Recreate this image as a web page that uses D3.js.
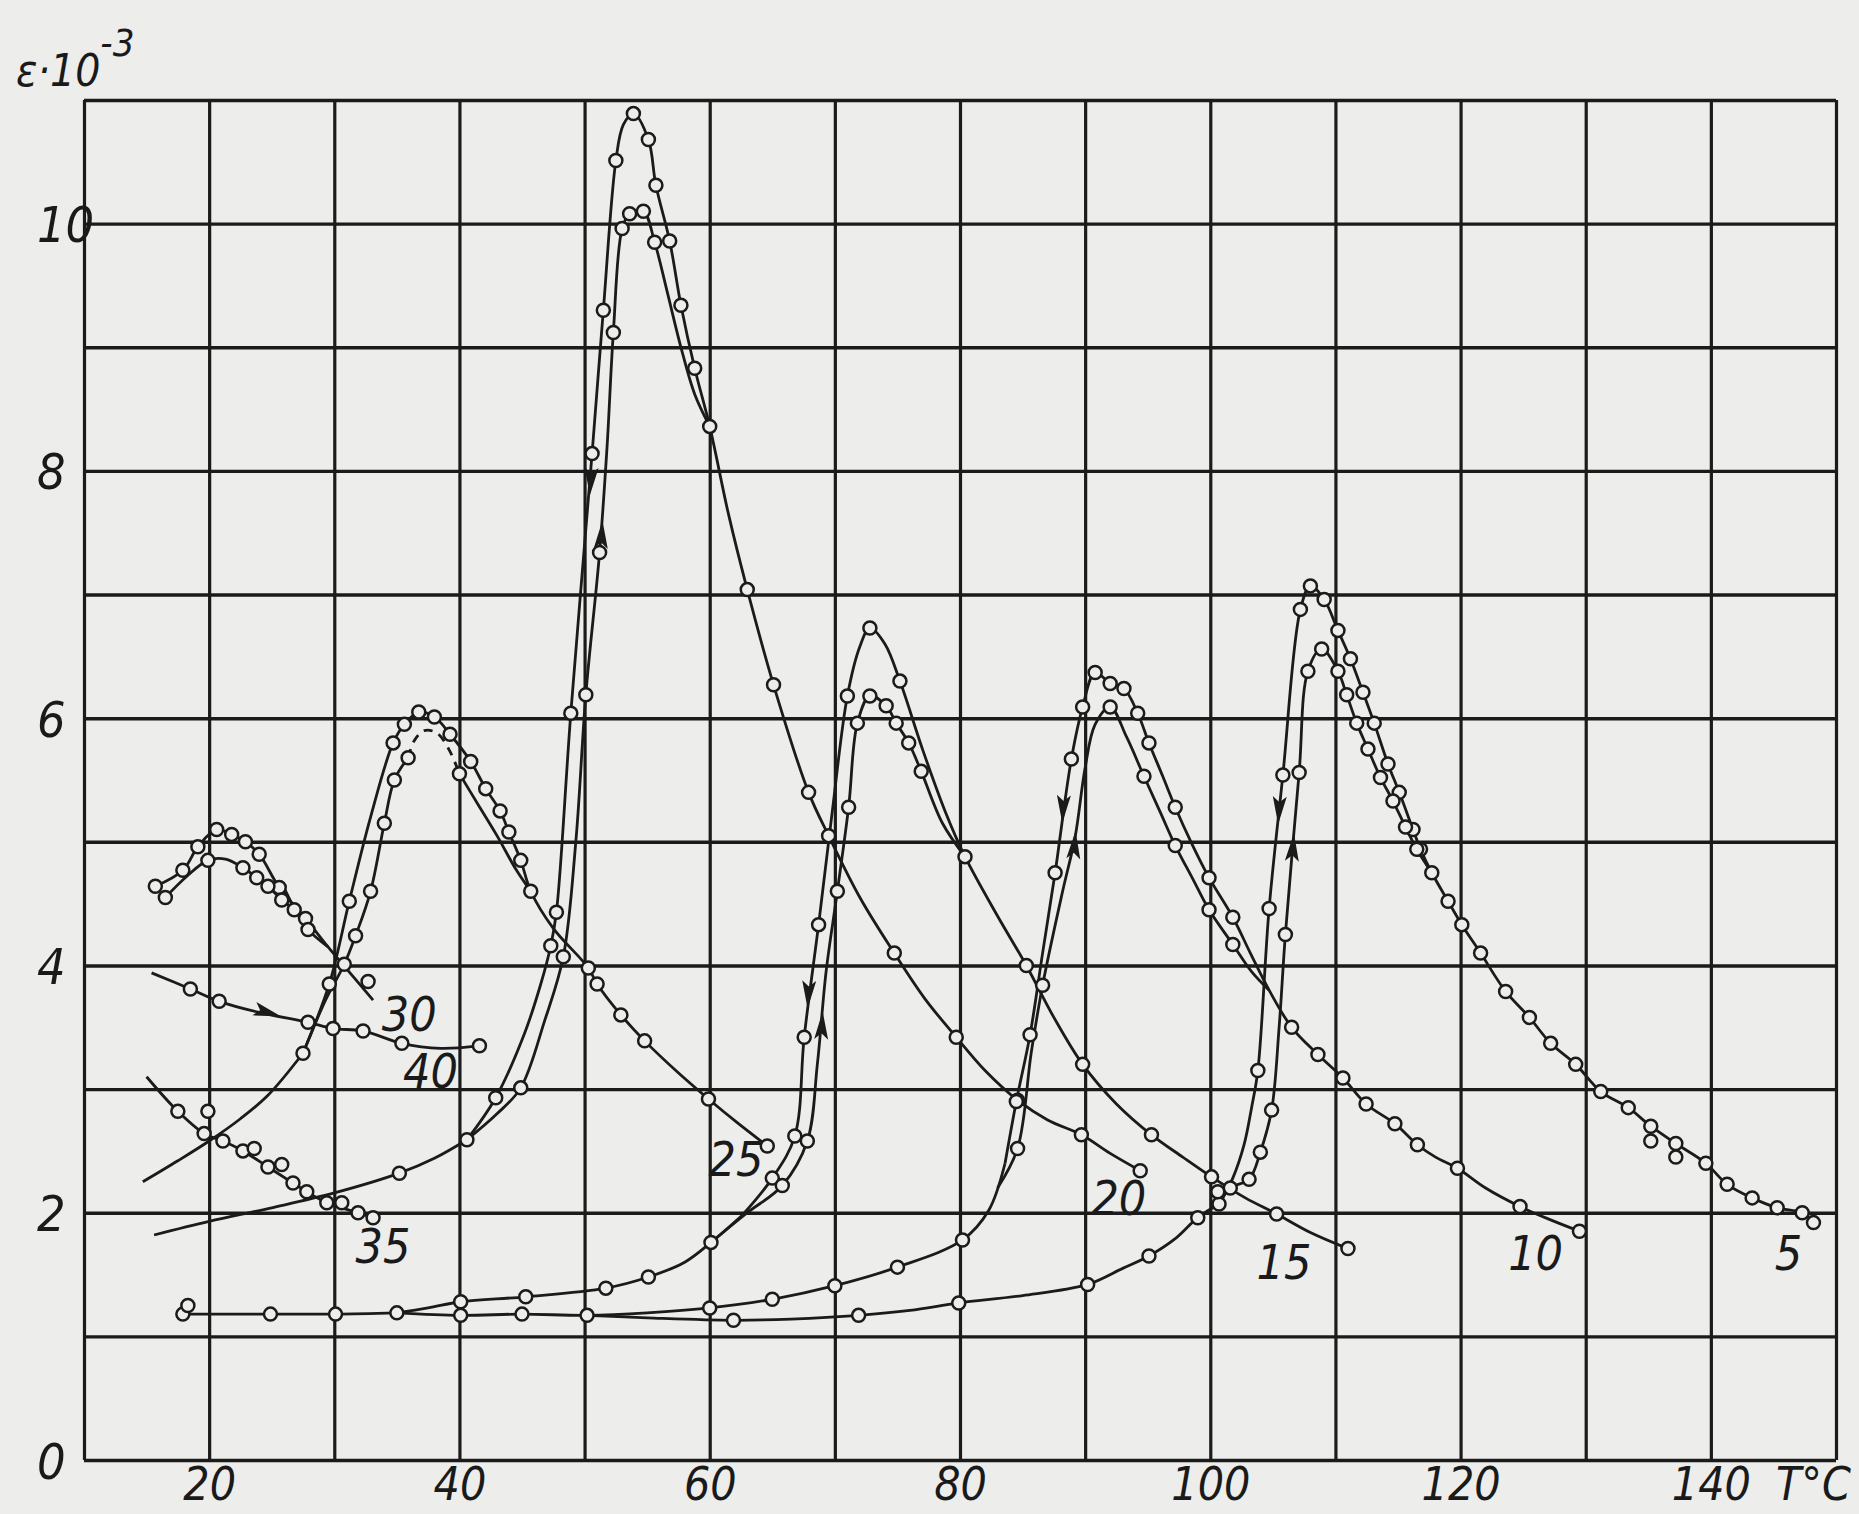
<!DOCTYPE html>
<html>
<head>
<meta charset="utf-8">
<script src="https://cdn.jsdelivr.net/npm/d3@7"></script>
<style>
  html, body { margin: 0; padding: 0; background: #ededeb; }
  svg { display: block; }
  .lbl { font-family: "Liberation Sans Narrow", "DejaVu Sans Condensed", "DejaVu Sans", sans-serif; font-stretch: condensed; font-style: italic; fill: #1a1a1a; }
</style>
</head>
<body>
<svg id="chart" width="1859" height="1514"></svg>
<script>
// values: [T °C, eps*10^-3, marker?]
const xTicks = [20, 40, 60, 80, 100, 120, 140];
const yTicks = [0, 2, 4, 6, 8, 10];

// short curves at the left (30, 40, 35)
const curve30a = [[15.7,4.64,1],[17.9,4.77,1],[19.1,4.96,1],[20.6,5.10,1],[21.8,5.06,1],[22.9,5.0,1],[24.0,4.9,1],[25.6,4.63,1],[27.7,4.38,1],[29.5,4.15,0],[31.0,3.97,0],[33.1,3.72,0]];
const curve30b = [[16.5,4.55,1],[18.2,4.72,0],[19.9,4.85,1],[21.3,4.86,0],[22.7,4.79,1],[23.8,4.71,1],[24.7,4.64,1],[25.8,4.53,1],[26.8,4.45,1],[27.9,4.29,1],[29.5,4.15,0]];
const curve40 = [[15.4,3.94,0],[18.5,3.81,1],[20.8,3.71,1],[24.0,3.62,0],[27.9,3.54,1],[29.9,3.49,1],[32.3,3.47,1],[35.4,3.37,1],[38.5,3.33,0],[41.6,3.35,1]];
const curve35 = [[15.0,3.10,0],[17.5,2.82,1],[19.6,2.64,1],[21.1,2.58,1],[22.7,2.5,1],[24.7,2.37,1],[26.7,2.24,1],[27.8,2.17,1],[29.4,2.08,1],[31.9,2.0,1],[33.1,1.96,1]];

// peak near 37 °C (25)
const base25 = [[14.7,2.25,0],[17.5,2.42,0],[20,2.58,0],[22.5,2.76,0],[24.7,2.95,0],[27.5,3.29,1]];
const peak25A = [[27.5,3.29,0],[29.6,3.85,1],[31.2,4.52,1],[32.9,5.2,0],[34.7,5.8,1],[35.6,5.95,1],[36.75,6.05,1],[38.0,6.01,1],[39.25,5.87,1],[40.9,5.65,1],[42.1,5.43,1],[43.25,5.25,1],[43.95,5.08,1],[44.9,4.85,1],[45.7,4.6,1],[47.5,4.3,0],[50.3,3.98,1],[51.0,3.85,1],[52.9,3.6,1],[54.8,3.39,1],[57.4,3.14,0],[59.9,2.92,1],[62.3,2.72,0],[64.6,2.54,1]];
const peak25B = [[27.5,3.29,0],[29.3,3.72,0],[30.8,4.01,1],[31.7,4.24,1],[32.9,4.6,1],[34.0,5.15,1],[34.8,5.5,1],[35.9,5.68,1]];
const peak25Top = [[35.9,5.68,0],[36.4,5.82,0],[37.2,5.9,0],[38.2,5.88,0],[39.2,5.74,0],[40.0,5.55,0]];
const peak25Down = [[40.0,5.55,1],[41.5,5.3,0],[43.0,5.05,0],[44.5,4.78,0],[45.7,4.6,0]];

// peak near 54 °C (20)
const base20 = [[15.6,1.82,0],[20,1.93,0],[25,2.04,0],[30,2.16,0],[35.2,2.32,1],[38,2.44,0],[40.6,2.59,1]];
const peak20A = [[40.6,2.59,0],[42.9,2.93,1],[45.2,3.45,0],[46.5,3.85,0],[47.3,4.16,1],[47.75,4.43,1],[48.9,6.04,1],[50.6,8.14,1],[51.5,9.3,1],[52.5,10.51,1],[53.1,10.8,0],[53.9,10.89,1],[55.1,10.68,1],[55.7,10.31,1],[56.8,9.86,1],[57.7,9.34,1],[58.8,8.83,1],[60.0,8.36,1],[61.5,7.65,0],[63.0,7.04,1],[65.1,6.27,1],[67.9,5.4,1],[69.5,5.05,1],[72,4.55,0],[74.75,4.1,1],[77.2,3.73,0],[79.7,3.42,1],[82,3.15,0],[84.6,2.91,1],[87,2.75,0],[89.7,2.63,1],[92,2.48,0],[94.4,2.34,1]];
const peak20B = [[40.6,2.59,0],[43.0,2.8,0],[44.9,3.01,1],[46.8,3.55,0],[48.3,4.07,1],[49.3,5.0,0],[50.1,6.19,1],[51.2,7.34,1],[51.8,8.2,0],[52.3,9.12,1],[53.0,9.96,1],[53.6,10.08,1],[54.7,10.1,1],[55.6,9.85,1],[56.6,9.45,0],[57.7,9.0,0],[58.8,8.62,0],[60.0,8.36,0]];

// flat start shared by 15, 10, 5
const baseShared = [[17.9,1.18,1],[21,1.18,0],[24.9,1.18,1],[30.1,1.18,1],[35.0,1.19,1]];

// peak near 73 °C (15)
const base15 = [[35.0,1.19,0],[37.5,1.23,0],[40.1,1.28,1],[45.3,1.32,1],[51.7,1.39,1],[55.1,1.48,1],[58,1.6,0],[60.1,1.76,1],[62.6,1.98,0]];
const peak15A = [[62.6,1.98,0],[65.0,2.28,1],[66.8,2.62,1],[67.55,3.42,1],[68.7,4.33,1],[69.8,5.25,0],[71.0,6.18,1],[72.0,6.58,0],[72.8,6.73,1],[74,6.6,0],[75.2,6.3,1],[77,5.75,0],[78.8,5.25,0],[80.4,4.88,1],[83,4.4,0],[85.3,4.0,1],[87.5,3.58,0],[89.8,3.2,1],[92.5,2.88,0],[95.3,2.63,1],[97.8,2.45,0],[100.1,2.29,1],[102.8,2.12,0],[105.3,1.99,1],[108,1.84,0],[111.0,1.71,1]];
const peak15B = [[60.1,1.76,0],[63,2.0,0],[65.8,2.22,1],[67.8,2.58,1],[68.6,3.2,0],[69.3,3.95,0],[70.2,4.6,1],[71.1,5.28,1],[71.8,5.96,1],[72.8,6.18,1],[74.1,6.1,1],[74.9,5.96,1],[75.9,5.8,1],[76.9,5.57,1],[78.6,5.15,0],[80.4,4.88,0]];

// peak near 91 °C (10)
const base10 = [[35.0,1.19,0],[40.1,1.17,1],[45.0,1.18,1],[50.2,1.17,1],[55,1.19,0],[60.0,1.23,1],[65.0,1.3,1],[70.0,1.41,1],[75.0,1.56,1],[80.2,1.78,1],[82.3,2.02,0],[83.6,2.4,0]];
const peak10A = [[83.6,2.4,0],[84.5,2.9,1],[85.6,3.44,1],[86.6,4.1,0],[87.6,4.75,1],[88.9,5.67,1],[89.8,6.09,1],[90.8,6.37,1],[92.0,6.28,1],[93.1,6.24,1],[94.2,6.04,1],[95.1,5.8,1],[96.2,5.53,0],[97.2,5.28,1],[98.5,4.99,0],[99.9,4.71,1],[101.8,4.39,1],[103.2,4.1,0],[104.7,3.8,0],[106.5,3.5,1],[108.6,3.28,1],[110.6,3.09,1],[112.45,2.88,1],[114.75,2.72,1],[116.55,2.55,1],[118,2.45,0],[119.75,2.36,1],[122,2.2,0],[124.75,2.05,1],[127,1.95,0],[129.5,1.85,1]];
const peak10B = [[83.0,2.2,0],[84.6,2.52,1],[85.7,3.3,0],[86.6,3.84,1],[88.2,4.6,0],[89.2,5.04,0],[90.0,5.6,0],[90.8,5.95,0],[92.0,6.09,1],[93.3,5.85,0],[94.7,5.53,1],[96,5.24,0],[97.2,4.97,1],[98.6,4.7,0],[99.9,4.45,1],[101.8,4.17,1],[103.3,3.95,0],[104.7,3.8,0]];

// peak near 108 °C (5)
const base5 = [[50.2,1.17,0],[55,1.15,0],[61.9,1.13,1],[66.5,1.14,0],[71.9,1.17,1],[76,1.21,0],[79.9,1.27,1],[85,1.33,0],[90.2,1.42,1],[93,1.55,0],[95.1,1.65,1],[97.2,1.79,0],[99,1.96,1],[100.7,2.07,1]];
const peak5A = [[100.7,2.07,0],[101.8,2.28,0],[102.7,2.55,0],[103.3,2.85,0],[103.8,3.15,1],[104.7,4.46,1],[105.8,5.54,1],[107.2,6.88,1],[108.0,7.07,1],[109.1,6.96,1],[110.2,6.71,1],[111.2,6.48,1],[112.2,6.21,1],[113.1,5.96,1],[114.2,5.63,1],[115.1,5.4,1],[116.2,5.1,1],[116.8,4.94,1],[117.7,4.75,1],[119.0,4.52,1],[120.1,4.33,1],[121.6,4.1,1],[123.6,3.79,1],[125.5,3.58,1],[127.2,3.37,1],[129.2,3.2,1],[131.2,2.98,1],[133.4,2.85,1],[135.2,2.7,1],[137.2,2.56,1],[139.6,2.4,1],[141.3,2.23,1],[143.3,2.12,1],[145.3,2.04,1],[147.3,2.0,1],[148.2,1.92,1]];
const peak5B = [[100.7,2.07,0],[101.6,2.2,1],[103.1,2.27,1],[104.0,2.49,1],[104.9,2.83,1],[105.5,3.5,0],[106.0,4.25,1],[107.1,5.56,1],[107.8,6.38,1],[108.9,6.56,1],[110.2,6.38,1],[110.9,6.19,1],[111.7,5.96,1],[112.6,5.75,1],[113.6,5.52,1],[114.6,5.33,1],[115.6,5.12,1],[116.5,4.94,1],[117.7,4.75,0]];

// loose circles that sit beside the lines
const extraMarks = [[32.7,3.87],[19.9,2.82],[23.6,2.52],[25.8,2.39],[30.6,2.08],[18.3,1.25],[135.2,2.58],[137.2,2.45],[100.6,2.17]];

// arrow heads: from [T,e] pointing towards [T2,e2]
const arrows = [[26.5,4.52,27.5,4.4],[25.3,3.6,26.3,3.57],[50.45,7.85,50.2,7.45],[51.4,7.55,51.6,7.9],[67.85,3.7,67.65,3.35],[69.0,3.58,69.2,3.95],[88.2,5.2,88.0,4.85],[89.2,5.04,89.5,5.4],[105.45,5.19,105.25,4.85],[106.65,5.02,106.9,5.35]];

// curve numbers
const curveLabels = [["30",33.8,3.47],["40",35.5,3.01],["35",31.7,1.59],["25",59.9,2.30],["20",90.5,1.98],["15",103.7,1.46],["10",123.8,1.54],["5",145.1,1.54]];

const series = [
  {pts: curve30a}, {pts: curve30b}, {pts: curve40}, {pts: curve35},
  {pts: base25}, {pts: peak25A}, {pts: peak25B}, {pts: peak25Top, dash: true}, {pts: peak25Down},
  {pts: base20}, {pts: peak20A}, {pts: peak20B},
  {pts: baseShared}, {pts: base15}, {pts: peak15A}, {pts: peak15B},
  {pts: base10}, {pts: peak10A}, {pts: peak10B},
  {pts: base5}, {pts: peak5A}, {pts: peak5B}
];

const ink = "#1b1b1b";
const paper = "#ededeb";
const svg = d3.select("#chart");
svg.append("rect").attr("width", 1859).attr("height", 1514).attr("fill", paper);

const x = d3.scaleLinear().domain([10, 150]).range([84, 1836]);
const y = d3.scaleLinear().domain([0, 11]).range([1460, 100]);

// grid
svg.append("g")
  .attr("transform", `translate(0,${y(0)})`)
  .call(d3.axisBottom(x).tickValues(d3.range(10, 151, 10)).tickSize(-(y(0) - y(11))).tickFormat(""))
  .call(g => g.select(".domain").remove())
  .call(g => g.selectAll("line").attr("stroke", ink).attr("stroke-width", 3.2));
svg.append("g")
  .attr("transform", `translate(${x(10)},0)`)
  .call(d3.axisLeft(y).tickValues(d3.range(0, 12, 1)).tickSize(-(x(150) - x(10))).tickFormat(""))
  .call(g => g.select(".domain").remove())
  .call(g => g.selectAll("line").attr("stroke", ink).attr("stroke-width", 3.4));

// tick labels
svg.append("g")
  .attr("transform", `translate(0,${y(0)})`)
  .call(d3.axisBottom(x).tickValues(xTicks).tickSize(0))
  .call(g => g.select(".domain").remove())
  .call(g => g.selectAll("text").attr("class", "lbl").attr("y", 40).attr("dy", null)
    .attr("font-size", 46).attr("fill", ink));
svg.append("g")
  .attr("transform", `translate(${x(10)},0)`)
  .call(d3.axisLeft(y).tickValues(yTicks).tickSize(0))
  .call(g => g.select(".domain").remove())
  .call(g => g.selectAll("text").attr("class", "lbl").attr("text-anchor", "start").attr("x", -47)
    .attr("dy", "0.36em").attr("font-size", 50).attr("fill", ink));

// axis titles
const yt = svg.append("text").attr("class", "lbl").attr("x", 16).attr("y", 86).attr("font-size", 44);
yt.append("tspan").text("ε·10");
yt.append("tspan").attr("dy", -30).attr("font-size", 38).text("-3");
svg.append("text").attr("class", "lbl").attr("x", 1776).attr("y", 1500).attr("font-size", 46).text("T°C");

// curves
const line = d3.line().x(d => x(d[0])).y(d => y(d[1])).curve(d3.curveCatmullRom.alpha(0.5));
svg.append("g").selectAll("path").data(series).join("path")
  .attr("d", d => line(d.pts))
  .attr("fill", "none").attr("stroke", ink).attr("stroke-width", 2.8)
  .attr("stroke-dasharray", d => d.dash ? "9,7" : null);

// arrow heads
svg.append("g").selectAll("path").data(arrows).join("path")
  .attr("d", "M6,0 L-22,-7 L-16,0 L-22,7 Z")
  .attr("fill", ink)
  .attr("transform", d => {
    const ang = Math.atan2(y(d[3]) - y(d[1]), x(d[2]) - x(d[0])) * 180 / Math.PI;
    return `translate(${x(d[0])},${y(d[1])}) rotate(${ang})`;
  });

// circle markers
const marks = series.flatMap(s => s.pts.filter(p => p[2])).concat(extraMarks);
svg.append("g").selectAll("circle").data(marks).join("circle")
  .attr("cx", d => x(d[0])).attr("cy", d => y(d[1])).attr("r", 6.5)
  .attr("fill", paper).attr("stroke", ink).attr("stroke-width", 2.5);

// curve numbers
svg.append("g").selectAll("text").data(curveLabels).join("text")
  .attr("class", "lbl").attr("font-size", 48)
  .attr("x", d => x(d[1])).attr("y", d => y(d[2]))
  .text(d => d[0]);
</script>
</body>
</html>
